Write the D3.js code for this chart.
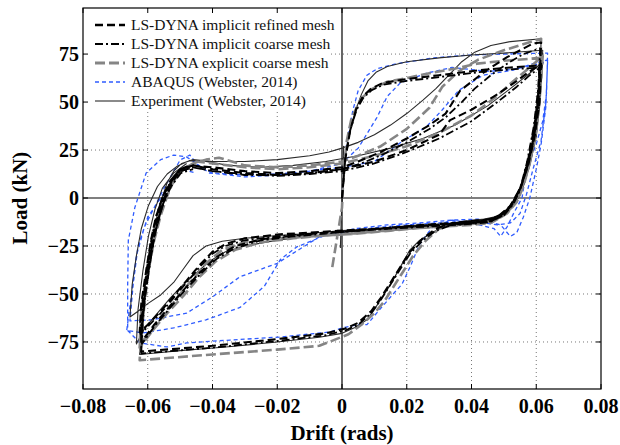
<!DOCTYPE html>
<html><head><meta charset="utf-8">
<script src="https://cdn.jsdelivr.net/npm/d3@7/dist/d3.min.js"></script>
<style>body{margin:0;background:#fff}svg{display:block}</style>
</head><body>
<svg id="c" width="620" height="445"></svg>
<script>
const xTicks = [-0.08,-0.06,-0.04,-0.02,0,0.02,0.04,0.06,0.08];
const yTicks = [-75,-50,-25,0,25,50,75];
const seriesNames = ["LS-DYNA implicit refined mesh","LS-DYNA implicit coarse mesh","LS-DYNA explicit coarse mesh","ABAQUS (Webster, 2014)","Experiment (Webster, 2014)"];

const experiment = [
 [-0.0005,-26],[0.0005,27],[0,-5],[0.0005,10],[0.001,22],[0.002,32],[0.003,39],[0.0045,47],[0.006,54],[0.008,61],[0.0105,65.5],[0.014,68.5],[0.02,71],[0.03,73],[0.04,74.5],[0.05,75.5],[0.062,77],
 [0.0615,60],[0.0605,42],[0.059,27],[0.057,14],[0.055,5],[0.053,-1],[0.051,-6],[0.048,-9.5],[0.044,-11],[0.038,-12],[0.032,-14],[0.028,-18],[0.024,-22],[0.021,-27],[0.019,-33],[0.017,-39],[0.015,-45],[0.0127,-51],[0.01,-58],[0.0077,-63.5],[0.004,-67.5],[0,-70.5],[-0.007,-72.5],[-0.02,-75],[-0.035,-77.5],[-0.05,-79.5],[-0.0625,-81.5],
 [-0.0625,-72],[-0.0615,-55],[-0.0603,-40],[-0.059,-25],[-0.0575,-12],[-0.056,-2],[-0.054,8],[-0.052,14],[-0.0495,18],[-0.046,20],[-0.04,19],[-0.03,19],[-0.02,20],[-0.01,22],[-0.004,24],[0,26],[0.005,29],[0.01,33],[0.015,38],[0.02,44],[0.025,51],[0.029,57],[0.033,64],[0.037,71],[0.041,76],[0.046,79.5],[0.052,81.5],[0.0615,83],
 [0.0612,62],[0.06,42],[0.0585,25],[0.0565,10],[0.0545,0],[0.052,-6],[0.049,-10],[0.045,-12],[0.038,-13],[0.03,-13.5],[0.02,-14.5],[0.01,-16],[0,-17],[-0.01,-18.5],[-0.02,-19.5],[-0.03,-21],[-0.037,-22.5],[-0.042,-25],[-0.046,-30],[-0.049,-37],[-0.052,-44],[-0.056,-50.5],[-0.06,-55],[-0.063,-59],[-0.0655,-62],
 [-0.0648,-45],[-0.0635,-30],[-0.062,-16],[-0.0598,-4],[-0.057,6],[-0.054,12.5],[-0.051,16.5],[-0.047,19.5],[-0.042,19],[-0.035,17],[-0.025,16],[-0.015,17],[-0.005,19],[0.005,22],[0.015,26],[0.025,31],[0.035,38],[0.045,48],[0.052,57],[0.058,65],[0.062,71],
 [0.0612,50],[0.06,32],[0.058,17],[0.056,6],[0.053,-3],[0.05,-8],[0.046,-11],[0.04,-12.5],[0.03,-14],[0.02,-15],[0.01,-16.5],[0,-18],[-0.01,-20],[-0.02,-22],[-0.03,-25],[-0.036,-28],[-0.041,-33],[-0.045,-39],[-0.049,-45],[-0.053,-52],[-0.057,-60],[-0.061,-68],[-0.0635,-76],
 [-0.063,-58],[-0.0615,-38],[-0.0598,-20],[-0.0578,-6],[-0.0555,5],[-0.052,13],[-0.048,18]
];

const implicitRefined = [
 [0,0],[0.001,20],[0.0025,35],[0.0045,47],[0.0065,53],[0.009,57],[0.0127,60],[0.02,62],[0.03,64],[0.042,66.5],[0.052,68],[0.061,69],
 [0.0605,50],[0.059,30],[0.057,15],[0.055,5],[0.053,-2],[0.05,-8],[0.046,-11],[0.04,-12],[0.034,-13],[0.029,-16],[0.025,-21],[0.021,-28],[0.018,-36],[0.015,-44],[0.012,-52],[0.009,-59],[0.005,-65],[0.001,-68],[-0.005,-70.5],[-0.02,-73.5],[-0.04,-77],[-0.062,-80],
 [-0.062,-70],[-0.061,-52],[-0.0595,-35],[-0.058,-20],[-0.056,-7],[-0.054,3],[-0.0525,10],[-0.05,15],[-0.047,17],[-0.04,16],[-0.03,14],[-0.02,13],[-0.01,14],[0,16],[0.005,19],[0.012,24],[0.02,31],[0.027,38],[0.032,44],[0.0365,56],[0.0448,66.7],[0.051,73.4],[0.059,80.5],[0.0615,81],
 [0.061,60],[0.0595,38],[0.0575,20],[0.0555,7],[0.053,-2],[0.05,-8],[0.046,-12],[0.04,-13],[0.03,-14],[0.02,-15],[0.01,-16],[0,-17],[-0.01,-18],[-0.02,-19],[-0.03,-21],[-0.036,-24],[-0.04,-28],[-0.044,-35],[-0.048,-43],[-0.052,-51],[-0.056,-59],[-0.06,-66],[-0.0625,-70],
 [-0.062,-55],[-0.0605,-38],[-0.059,-22],[-0.0575,-10],[-0.0555,0],[-0.053,9],[-0.05,15],[-0.046,17],[-0.04,15],[-0.03,13],[-0.02,12],[-0.01,13],[0,15],[0.01,19],[0.02,25],[0.03,33],[0.0334,40.6],[0.04,46],[0.048,54],[0.054,61],[0.058,66],[0.0615,70],
 [0.061,50],[0.0595,32],[0.0575,17],[0.055,5],[0.052,-4],[0.048,-10],[0.043,-12],[0.035,-13],[0.025,-14],[0.015,-15.5],[0.005,-17],[-0.005,-18],[-0.015,-19.5],[-0.025,-21.5],[-0.033,-25],[-0.039,-31],[-0.044,-39],[-0.049,-48],[-0.054,-58],[-0.058,-66],[-0.062,-75],
 [-0.0615,-55],[-0.06,-35],[-0.058,-17],[-0.056,-4],[-0.053,7],[-0.05,14],[-0.046,16]
];

const implicitCoarse = [
 [0,0],[0.001,20],[0.0025,35],[0.0045,46],[0.0065,52],[0.009,56],[0.0127,59],[0.02,61],[0.03,63],[0.042,65.5],[0.052,67],[0.061,68],
 [0.0605,48],[0.059,30],[0.057,15],[0.055,4],[0.053,-3],[0.05,-9],[0.046,-12],[0.04,-13],[0.034,-14],[0.029,-17],[0.025,-22],[0.021,-29],[0.018,-37],[0.015,-45],[0.012,-53],[0.009,-60],[0.005,-66],[0.001,-69],[-0.005,-71.5],[-0.02,-74.5],[-0.04,-78],[-0.062,-81],
 [-0.0618,-68],[-0.0607,-50],[-0.0592,-33],[-0.0577,-18],[-0.0558,-6],[-0.0538,4],[-0.052,11],[-0.0495,15],[-0.046,16],[-0.04,14],[-0.03,12],[-0.02,12],[-0.01,13],[0,15],[0.006,18],[0.013,23],[0.02,29],[0.027,36],[0.032,42],[0.037,50],[0.041,57],[0.046,64],[0.051,70],[0.056,75],[0.0612,78],
 [0.0607,58],[0.0592,37],[0.0572,19],[0.0552,6],[0.0528,-3],[0.0498,-9],[0.0458,-12.5],[0.04,-13.5],[0.03,-14.5],[0.02,-15.5],[0.01,-16.5],[0,-17.5],[-0.01,-18.5],[-0.02,-20],[-0.03,-22],[-0.036,-25],[-0.04,-29],[-0.044,-36],[-0.048,-44],[-0.052,-52],[-0.056,-60],[-0.06,-67],[-0.0622,-71],
 [-0.0616,-54],[-0.0602,-37],[-0.0588,-21],[-0.0573,-9],[-0.0553,1],[-0.0528,9],[-0.05,14],[-0.046,16],[-0.04,14],[-0.03,12.5],[-0.02,11.5],[-0.01,12.5],[0,14],[0.01,18],[0.02,24],[0.03,31],[0.04,40],[0.048,50],[0.054,58],[0.058,64],[0.0612,68],
 [0.0607,48],[0.0592,30],[0.0572,16],[0.0548,4],[0.0518,-5],[0.0478,-10.5],[0.0428,-12.5],[0.035,-13.5],[0.025,-14.5],[0.015,-15.5],[0.005,-17],[-0.005,-18.5],[-0.015,-20],[-0.025,-22],[-0.033,-26],[-0.039,-32],[-0.044,-40],[-0.049,-49],[-0.054,-59],[-0.058,-67],[-0.0618,-76],
 [-0.0612,-56],[-0.0598,-36],[-0.0578,-18],[-0.0558,-5],[-0.0528,6],[-0.0498,13],[-0.046,15]
];

const explicitCoarse = [
 [-0.003,-36],[0,-5],[0.0005,15],[0.0015,30],[0.003,42],[0.006,52],[0.0095,57],[0.0139,60.5],[0.02,62.5],[0.027,65],[0.035,67.5],[0.0417,70],[0.05,71.5],[0.0615,73],
 [0.061,55],[0.0598,35],[0.058,18],[0.056,6],[0.054,-2],[0.051,-8],[0.047,-12],[0.041,-13],[0.035,-13.5],[0.03,-16],[0.026,-22],[0.022,-30],[0.019,-38],[0.016,-46],[0.013,-54],[0.01,-60],[0.006,-66],[0.002,-71],[-0.004,-75],[-0.007,-77],[-0.02,-79],[-0.04,-81.5],[-0.0625,-84.5],
 [-0.062,-72],[-0.061,-55],[-0.0598,-38],[-0.058,-22],[-0.056,-9],[-0.054,1],[-0.052,9],[-0.049,15],[-0.046,18],[-0.042,20],[-0.038,21],[-0.03,17],[-0.02,16],[-0.01,17],[0,19],[0.005,22],[0.012,27],[0.02,36],[0.027,47],[0.031,58],[0.036,66],[0.042,72],[0.05,77],[0.0615,83],
 [0.0612,62],[0.06,40],[0.058,22],[0.056,8],[0.0535,-2],[0.05,-9],[0.046,-13],[0.04,-14],[0.03,-15],[0.02,-16],[0.01,-17.5],[0,-19],[-0.01,-20],[-0.02,-21],[-0.03,-23],[-0.037,-27],[-0.042,-34],[-0.046,-42],[-0.05,-50],[-0.055,-61],[-0.059,-70],[-0.0625,-76],
 [-0.062,-58],[-0.0605,-40],[-0.059,-24],[-0.057,-10],[-0.055,0],[-0.052,9],[-0.049,15],[-0.045,19],[-0.04,18],[-0.03,16],[-0.02,15],[-0.01,16],[0,18],[0.01,22],[0.02,27],[0.03,34],[0.04,43],[0.047,52],[0.053,61],[0.058,68],[0.062,74],
 [0.0612,55],[0.06,35],[0.058,18],[0.0555,5],[0.053,-4],[0.049,-10],[0.044,-13],[0.036,-14],[0.025,-15.5],[0.015,-17],[0.005,-18.5],[-0.005,-19.5],[-0.015,-21],[-0.025,-23],[-0.033,-27],[-0.039,-33],[-0.044,-41],[-0.049,-51],[-0.054,-60],[-0.058,-68],[-0.0625,-78],
 [-0.0618,-58],[-0.06,-38],[-0.058,-20],[-0.056,-6],[-0.053,6],[-0.049,15],[-0.045,18]
];

const abaqus = [
 [0,0],[0.0005,15],[0.0015,30],[0.0034,46],[0.005,56],[0.0077,64],[0.011,67.5],[0.017,70],[0.028,73],[0.0395,74.5],[0.05,75],[0.0635,75.5],
 [0.0632,55],[0.062,40],[0.06,28],[0.057,15],[0.0556,0],[0.053,-8],[0.051,-15],[0.049,-20],[0.047,-16],[0.04,-13],[0.034,-11.5],[0.028,-15],[0.024,-24],[0.021,-36],[0.0185,-45],[0.0158,-50],[0.0117,-58],[0.0077,-66],[0.0046,-66],[0,-67.7],[-0.0037,-69.8],[-0.019,-72.4],[-0.0346,-74],[-0.048,-75.5],[-0.054,-77.6],[-0.0624,-75.5],[-0.0662,-69],
 [-0.0662,-45],[-0.066,-22],[-0.064,-5],[-0.0605,13],[-0.056,20],[-0.052,22.4],[-0.048,21.4],[-0.045,18],[-0.041,13],[-0.035,12],[-0.03,11],[-0.02,12],[-0.01,14],[0,18],[0.005,26],[0.0108,42],[0.014,53],[0.018,60],[0.026,65],[0.034,68],[0.045,66],[0.053,67],[0.0635,71],
 [0.063,50],[0.0615,30],[0.059,15],[0.057,2],[0.055,-8],[0.052,-13],[0.048,-14],[0.04,-12],[0.03,-13],[0.02,-14],[0.01,-15.5],[0,-18],[-0.006,-20],[-0.014,-25.5],[-0.019,-32],[-0.024,-46],[-0.0315,-57],[-0.042,-63.5],[-0.052,-67.7],[-0.0615,-70.3],[-0.0665,-69],
 [-0.065,-50],[-0.0635,-30],[-0.061,-15],[-0.058,-5],[-0.055,5],[-0.05,19.8],[-0.047,22.4],[-0.044,16],[-0.04,13],[-0.03,12],[-0.02,12.5],[-0.01,14],[0,16],[0.01,19],[0.019,30],[0.026,37],[0.031,46],[0.036,56],[0.0436,64],[0.053,66.7],[0.059,70],[0.0635,72],
 [0.063,48],[0.0615,28],[0.06,15],[0.058,0],[0.056,-10],[0.054,-18],[0.052,-20],[0.049,-14],[0.042,-11],[0.034,-11.5],[0.024,-13],[0.014,-14],[0.004,-16],[-0.0068,-20],[-0.02,-34],[-0.0315,-41],[-0.04,-51.5],[-0.048,-60],[-0.059,-63.5],[-0.0655,-64],
 [-0.0645,-45],[-0.063,-25],[-0.06,-10],[-0.056,0],[-0.05,15],[-0.045,13]
];

const svg = d3.select("#c");
const L = 83, R = 601, T = 8, B = 389;
const x = d3.scaleLinear().domain([-0.08, 0.08]).range([L, R]);
const y = d3.scaleLinear().domain([-99.5, 99]).range([B, T]);
const serif = "'Liberation Serif','Times New Roman',serif";

const g = svg.append("g");
g.selectAll("line.gx").data(xTicks.filter(d => d !== 0 && Math.abs(d) < 0.08)).enter().append("line")
  .attr("x1", d => x(d)).attr("x2", d => x(d)).attr("y1", T).attr("y2", B)
  .attr("stroke", "#777").attr("stroke-width", 1).attr("stroke-dasharray", "1,3");
g.selectAll("line.gy").data(yTicks.filter(d => d !== 0)).enter().append("line")
  .attr("x1", L).attr("x2", R).attr("y1", d => y(d)).attr("y2", d => y(d))
  .attr("stroke", "#777").attr("stroke-width", 1).attr("stroke-dasharray", "1,3");

svg.append("rect").attr("x", L + 1).attr("y", T + 1).attr("width", 245).attr("height", 101).attr("fill", "#fff");

svg.append("line").attr("x1", L).attr("x2", R).attr("y1", y(0)).attr("y2", y(0)).attr("stroke", "#000").attr("stroke-width", 1.2);
svg.append("line").attr("x1", x(0)).attr("x2", x(0)).attr("y1", T).attr("y2", B).attr("stroke", "#000").attr("stroke-width", 1.2);

const styles = [
  {data: abaqus, color: "#2f5cff", w: 1.3, dash: "4,3"},
  {data: experiment, color: "#2a2a2a", w: 1.1, dash: null},
  {data: explicitCoarse, color: "#858585", w: 2.6, dash: "10,4"},
  {data: implicitRefined, color: "#000", w: 2.1, dash: "8,4"},
  {data: implicitCoarse, color: "#000", w: 1.8, dash: "8,3,2,3"}
];
const line = d3.line().x(d => x(d[0])).y(d => y(d[1]));
svg.append("clipPath").attr("id", "clp").append("rect").attr("x", L).attr("y", T).attr("width", R - L).attr("height", B - T);
styles.forEach(s => {
  svg.append("path").attr("d", line(s.data)).attr("fill", "none").attr("stroke", s.color)
    .attr("stroke-width", s.w).attr("stroke-dasharray", s.dash).attr("stroke-linejoin", "round")
    .attr("clip-path", "url(#clp)");
});

svg.append("rect").attr("x", L).attr("y", T).attr("width", R - L).attr("height", B - T)
  .attr("fill", "none").attr("stroke", "#000").attr("stroke-width", 1.2);

xTicks.forEach(t => {
  svg.append("line").attr("x1", x(t)).attr("x2", x(t)).attr("y1", B).attr("y2", B - 5).attr("stroke", "#000");
  svg.append("line").attr("x1", x(t)).attr("x2", x(t)).attr("y1", T).attr("y2", T + 5).attr("stroke", "#000");
});
yTicks.forEach(t => {
  svg.append("line").attr("x1", L).attr("x2", L + 5).attr("y1", y(t)).attr("y2", y(t)).attr("stroke", "#000");
  svg.append("line").attr("x1", R).attr("x2", R - 5).attr("y1", y(t)).attr("y2", y(t)).attr("stroke", "#000");
});

const fmtX = d => d === 0 ? "0" : (d < 0 ? "\u2212" : "") + Math.abs(d).toFixed(2);
const fmtY = d => (d < 0 ? "\u2212" : "") + Math.abs(d);
svg.append("g").selectAll("text").data(xTicks).enter().append("text")
  .attr("x", d => x(d)).attr("y", 413).attr("text-anchor", "middle")
  .attr("font-family", serif).attr("font-weight", "bold").attr("font-size", 20).text(fmtX);
svg.append("g").selectAll("text").data(yTicks).enter().append("text")
  .attr("x", 79).attr("y", d => y(d) + 7).attr("text-anchor", "end")
  .attr("font-family", serif).attr("font-weight", "bold").attr("font-size", 20).text(fmtY);

svg.append("text").attr("x", x(0)).attr("y", 440).attr("text-anchor", "middle")
  .attr("font-family", serif).attr("font-weight", "bold").attr("font-size", 21).text("Drift (rads)");
svg.append("text").attr("transform", `translate(27,${y(0)}) rotate(-90)`).attr("text-anchor", "middle")
  .attr("font-family", serif).attr("font-weight", "bold").attr("font-size", 21).text("Load (kN)");

const legStyles = [
  {color: "#000", w: 2.4, dash: "8,4"},
  {color: "#000", w: 2.2, dash: "8,3,2,3"},
  {color: "#858585", w: 3, dash: "10,4"},
  {color: "#2f5cff", w: 1.3, dash: "4,3"},
  {color: "#2a2a2a", w: 1.1, dash: null}
];
seriesNames.forEach((name, i) => {
  const yy = 25 + i * 19;
  svg.append("line").attr("x1", 95).attr("x2", 125).attr("y1", yy).attr("y2", yy)
    .attr("stroke", legStyles[i].color).attr("stroke-width", legStyles[i].w).attr("stroke-dasharray", legStyles[i].dash);
  svg.append("text").attr("x", 131).attr("y", yy + 5).attr("font-family", serif).attr("font-size", 15.5).attr("fill", "#111").text(name);
});
</script>
</body></html>
